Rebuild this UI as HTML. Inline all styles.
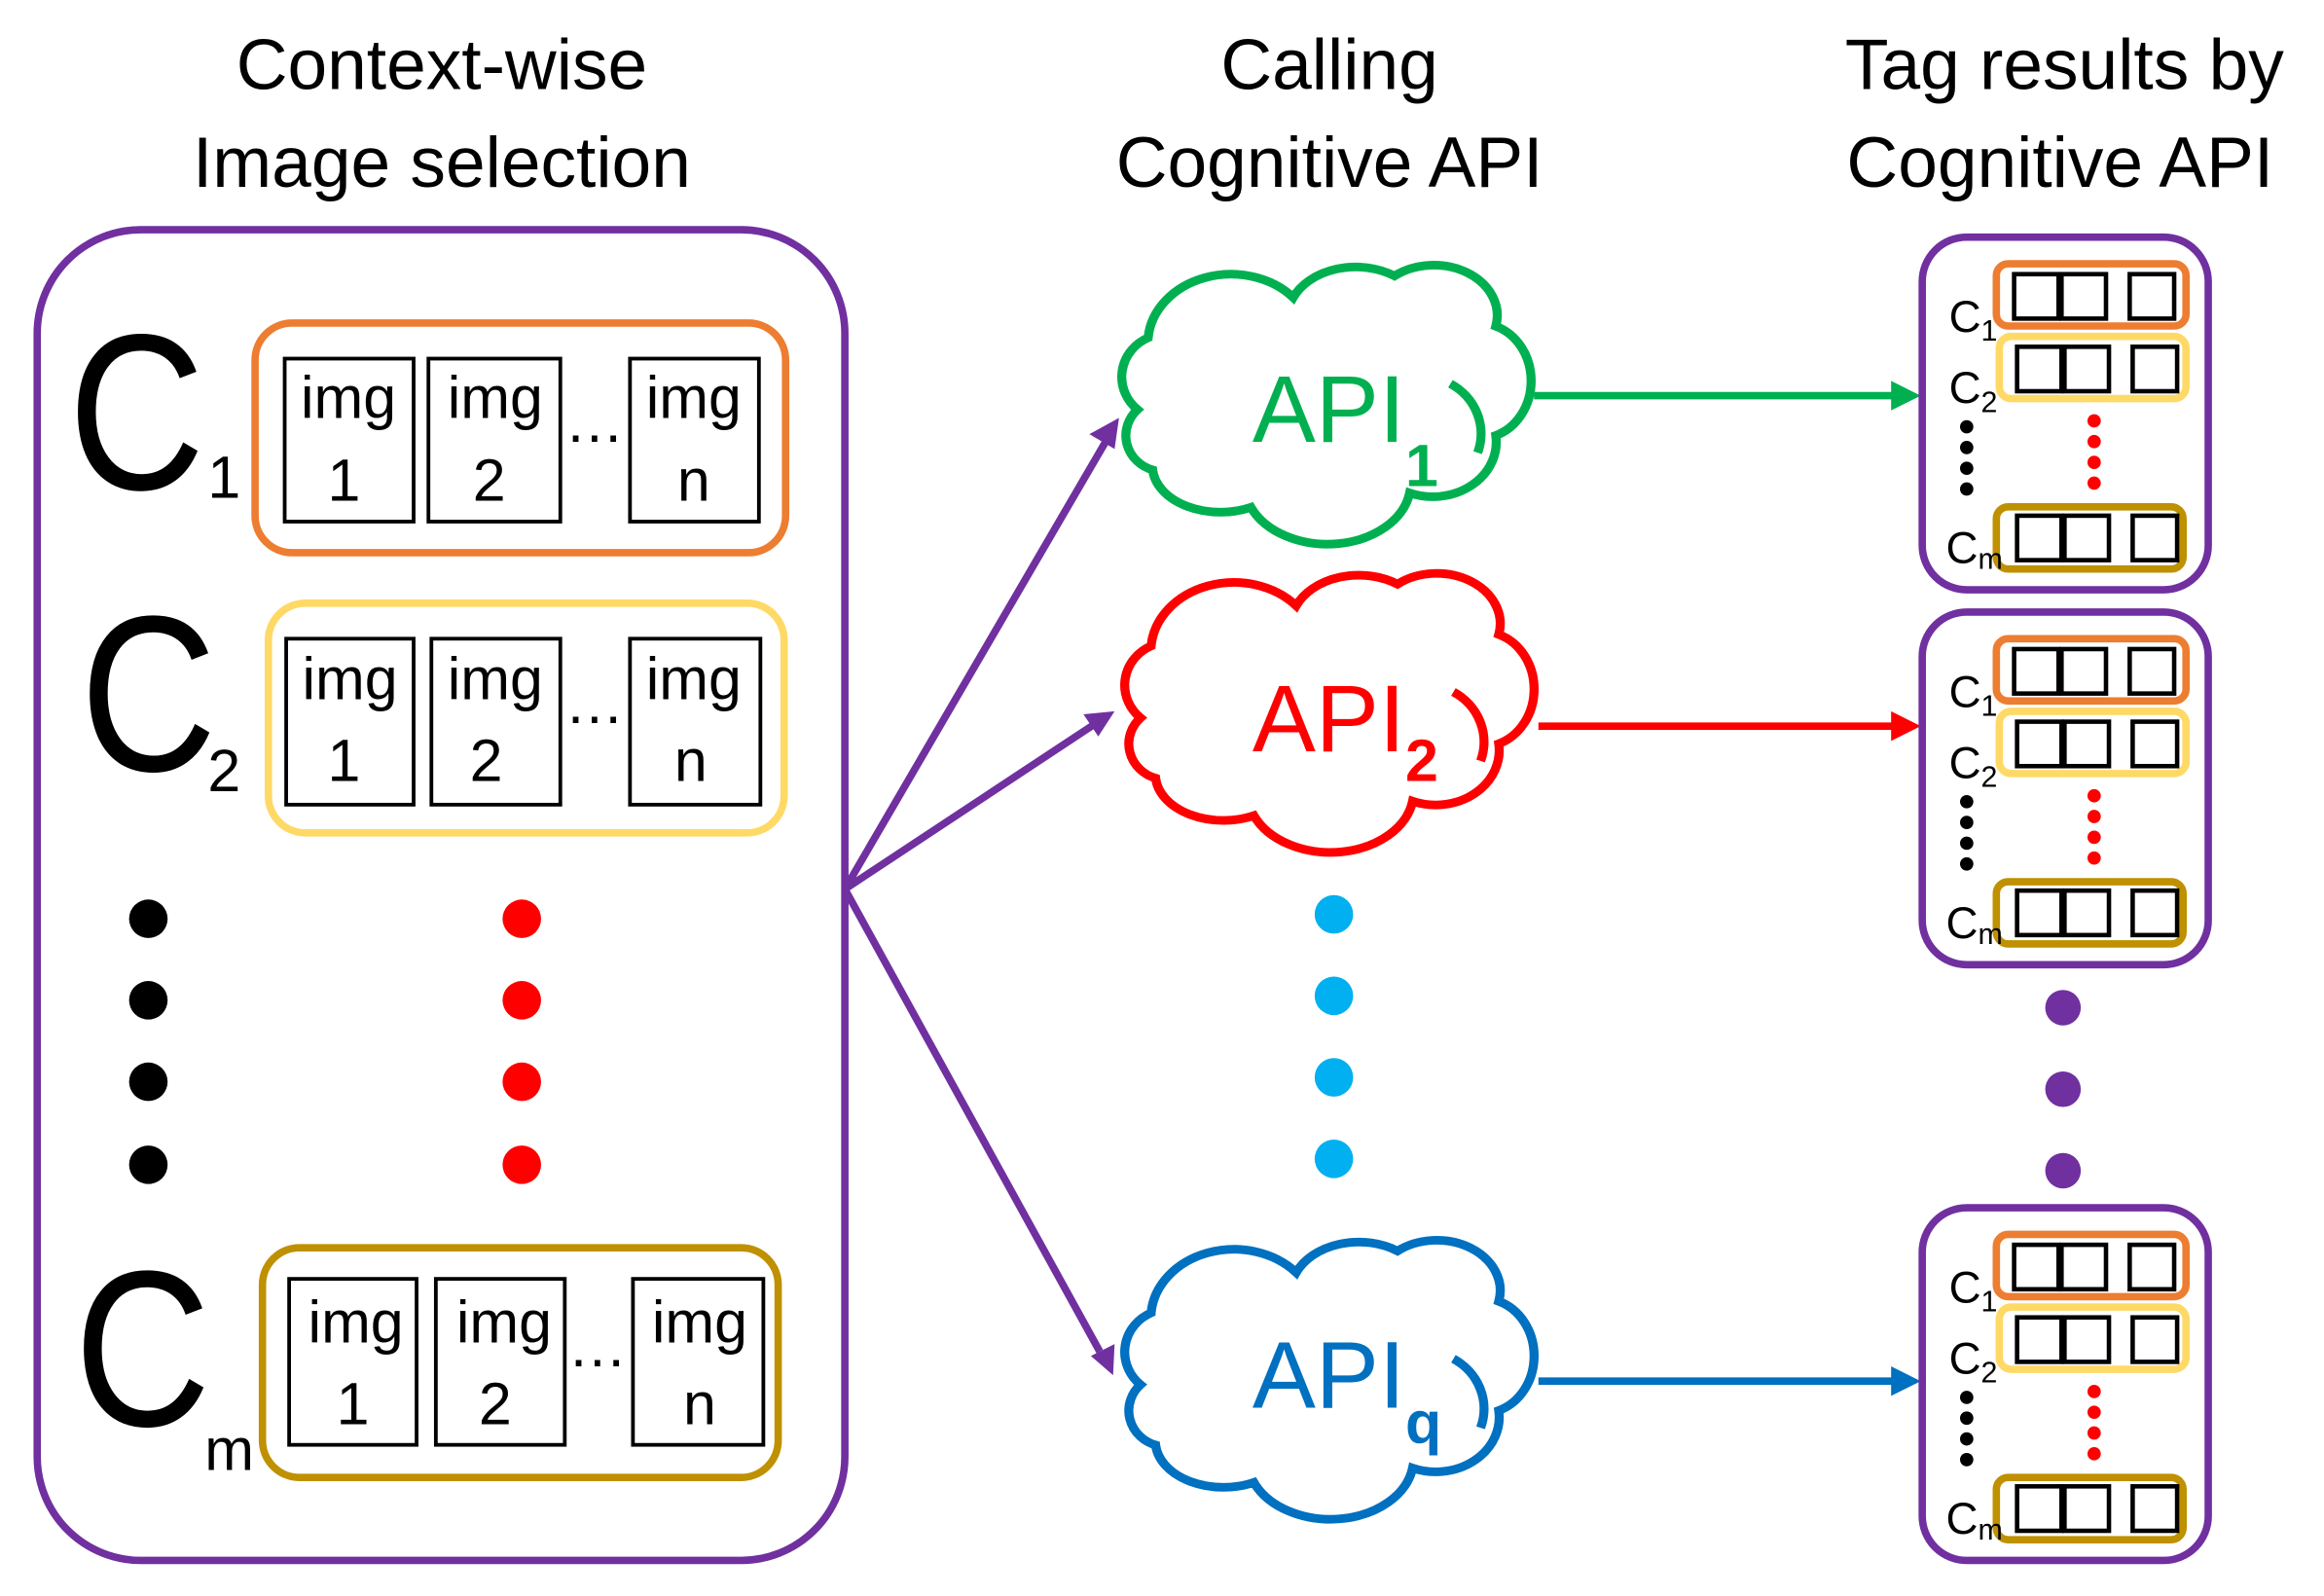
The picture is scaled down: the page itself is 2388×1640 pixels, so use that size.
<!DOCTYPE html>
<html><head><meta charset="utf-8"><style>html,body{margin:0;padding:0;background:#fff}svg{display:block}</style></head>
<body>
<svg width="2388" height="1640" viewBox="0 0 1568 1077" xmlns="http://www.w3.org/2000/svg" font-family="Liberation Sans, sans-serif">
<defs>
<g id="cloud"><path d="M25,120 A30,30 0 0 1 32,70 A55,48 0 0 1 128,42 A45,35 0 0 1 195,27 A42,35 0 0 1 262,62 A34,40 0 0 1 262,138 A42,38 0 0 1 205,178 A55,42 0 0 1 100,188 A45,32 0 0 1 35,162 A25,25 0 0 1 25,120 Z" fill="#fff" stroke-width="6"/></g>
<g id="tag">
<rect x="0" y="0" width="193" height="238" rx="30" fill="#fff" stroke="#7030A0" stroke-width="5"/>
<rect x="50" y="18" width="128" height="42" rx="8" fill="none" stroke="#ED7D31" stroke-width="5"/>
<rect x="52" y="67" width="126" height="42" rx="8" fill="none" stroke="#FFD966" stroke-width="5"/>
<rect x="50" y="182" width="126" height="42" rx="8" fill="none" stroke="#BF9000" stroke-width="5"/>
<g fill="none" stroke="#000" stroke-width="3">
<rect x="62" y="25" width="30" height="30"/><rect x="94" y="25" width="30" height="30"/><rect x="140" y="25" width="30" height="30"/>
<rect x="64" y="74" width="30" height="30"/><rect x="96" y="74" width="30" height="30"/><rect x="142" y="74" width="30" height="30"/>
<rect x="64" y="188" width="30" height="30"/><rect x="96" y="188" width="30" height="30"/><rect x="142" y="188" width="30" height="30"/>
</g>
<text x="18" y="64" font-size="30">C<tspan font-size="20" dy="6">1</tspan></text>
<text x="18" y="112" font-size="30">C<tspan font-size="20" dy="6">2</tspan></text>
<text x="16" y="220" font-size="30">C<tspan font-size="20" dy="4">m</tspan></text>
<g fill="#000"><circle cx="30" cy="128" r="4.5"/><circle cx="30" cy="142" r="4.5"/><circle cx="30" cy="156" r="4.5"/><circle cx="30" cy="170" r="4.5"/></g>
<g fill="#f00"><circle cx="116" cy="124" r="4.5"/><circle cx="116" cy="138" r="4.5"/><circle cx="116" cy="152" r="4.5"/><circle cx="116" cy="166" r="4.5"/></g>
</g>
</defs>

<g font-size="48" text-anchor="middle" fill="#000">
<text x="298" y="60">Context-wise</text><text x="298" y="126">Image selection</text>
<text x="897" y="60">Calling</text><text x="897" y="126">Cognitive API</text>
<text x="1393" y="60">Tag results by</text><text x="1390" y="126">Cognitive API</text>
</g>

<rect x="25" y="155" width="545" height="898" rx="70" fill="none" stroke="#7030A0" stroke-width="5"/>

<text transform="translate(46,330) scale(0.85,1)" font-size="150">C</text><text x="140" y="336" font-size="40">1</text>
<text transform="translate(54,520) scale(0.85,1)" font-size="150">C</text><text x="140" y="534" font-size="40">2</text>
<text transform="translate(50,962) scale(0.85,1)" font-size="150">C</text><text x="138" y="992" font-size="40">m</text>

<rect x="172" y="218" width="358" height="155" rx="25" fill="none" stroke="#ED7D31" stroke-width="5"/>
<rect x="181" y="407" width="348" height="155" rx="25" fill="none" stroke="#FFD966" stroke-width="5"/>
<rect x="177" y="842" width="348" height="155" rx="25" fill="none" stroke="#BF9000" stroke-width="5"/>

<g fill="none" stroke="#000" stroke-width="2.5">
<rect x="192" y="242" width="87" height="110"/><rect x="289" y="242" width="89" height="110"/><rect x="425" y="242" width="87" height="110"/>
<rect x="193" y="431" width="86" height="112"/><rect x="291" y="431" width="87" height="112"/><rect x="425" y="431" width="88" height="112"/>
<rect x="195" y="863" width="86" height="112"/><rect x="294" y="863" width="87" height="112"/><rect x="427" y="863" width="88" height="112"/>
</g>
<g font-size="40" text-anchor="middle" fill="#000">
<text x="235" y="282">img</text><text x="232" y="338">1</text>
<text x="334" y="282">img</text><text x="330" y="338">2</text>
<text x="468" y="282">img</text><text x="468" y="338">n</text>
<text x="236" y="472">img</text><text x="232" y="527">1</text>
<text x="334" y="472">img</text><text x="328" y="527">2</text>
<text x="468" y="472">img</text><text x="466" y="527">n</text>
<text x="240" y="906">img</text><text x="238" y="961">1</text>
<text x="340" y="906">img</text><text x="334" y="961">2</text>
<text x="472" y="906">img</text><text x="472" y="961">n</text>
<text x="401" y="298">…</text><text x="401" y="488">…</text><text x="403" y="922">…</text>
</g>

<g fill="#000"><circle cx="100" cy="620" r="13"/><circle cx="100" cy="675" r="13"/><circle cx="100" cy="730" r="13"/><circle cx="100" cy="786" r="13"/></g>
<g fill="#f00"><circle cx="352" cy="620" r="13"/><circle cx="352" cy="675" r="13"/><circle cx="352" cy="730" r="13"/><circle cx="352" cy="786" r="13"/></g>
<g fill="#00B0F0"><circle cx="900" cy="617" r="13"/><circle cx="900" cy="672" r="13"/><circle cx="900" cy="727" r="13"/><circle cx="900" cy="782" r="13"/></g>
<g fill="#7030A0"><circle cx="1392" cy="680" r="12"/><circle cx="1392" cy="735" r="12"/><circle cx="1392" cy="790" r="12"/></g>

<g stroke="#7030A0" stroke-width="5" fill="#7030A0">
<line x1="570" y1="600" x2="746" y2="298"/><polygon points="755,282 735,293 752,303" stroke="none"/>
<line x1="570" y1="600" x2="738" y2="489"/><polygon points="752,480 731,482 741,497" stroke="none"/>
<line x1="570" y1="600" x2="742" y2="912"/><polygon points="751,928 736,915 752,907" stroke="none"/>
</g>

<g transform="translate(742,160) scale(1.02,0.97)" stroke="#00B050"><use href="#cloud"/><path d="M232,102 A40,40 0 0 1 250,150" fill="none" stroke-width="6"/></g>
<g transform="translate(744,368) scale(1.02,0.97)" stroke="#FF0000"><use href="#cloud"/><path d="M232,102 A40,40 0 0 1 250,150" fill="none" stroke-width="6"/></g>
<g transform="translate(744,818) scale(1.02,0.97)" stroke="#0070C0"><use href="#cloud"/><path d="M232,102 A40,40 0 0 1 250,150" fill="none" stroke-width="6"/></g>

<text x="845" y="298" font-size="64" fill="#00B050">API<tspan font-size="40" font-weight="bold" dy="30">1</tspan></text>
<text x="845" y="507" font-size="64" fill="#FF0000">API<tspan font-size="40" font-weight="bold" dy="20">2</tspan></text>
<text x="845" y="950" font-size="64" fill="#0070C0">API<tspan font-size="40" font-weight="bold" dy="24">q</tspan></text>

<line x1="1035" y1="267" x2="1280" y2="267" stroke="#00B050" stroke-width="5"/><polygon points="1296,267 1276,257 1276,277" fill="#00B050"/>
<line x1="1038" y1="490" x2="1280" y2="490" stroke="#FF0000" stroke-width="5"/><polygon points="1296,490 1276,480 1276,500" fill="#FF0000"/>
<line x1="1038" y1="932" x2="1280" y2="932" stroke="#0070C0" stroke-width="5"/><polygon points="1296,932 1276,922 1276,942" fill="#0070C0"/>

<use href="#tag" x="1297" y="160"/>
<use href="#tag" x="1297" y="413"/>
<use href="#tag" x="1297" y="815"/>
</svg>
</body></html>
